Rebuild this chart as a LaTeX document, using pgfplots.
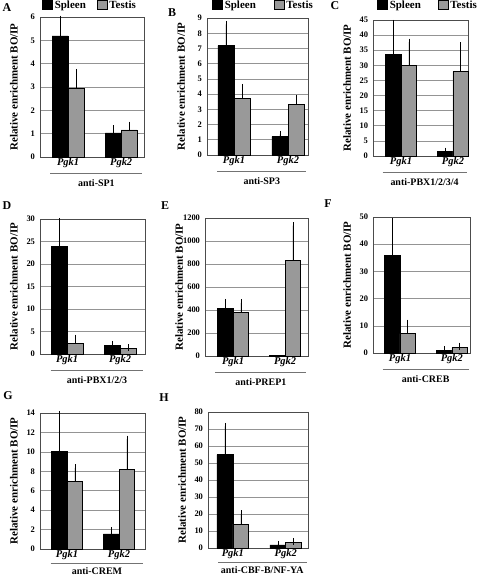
\documentclass[border=0pt]{standalone}
\usepackage{fontspec}
\setmainfont{Liberation Serif}
\usepackage{pgfplots}
\pgfplotsset{compat=1.18}
\definecolor{barg}{gray}{0.6}
\definecolor{gridg}{gray}{0.58}
\definecolor{frameg}{gray}{0.3}
\definecolor{lineg}{gray}{0.45}
\pgfplotsset{
  panel/.style={
    scale only axis, anchor=south west, clip=false,
    ymin=0, xtick={0,1}, xticklabels={\textit{Pgk1},\textit{Pgk2}},
    xticklabel style={font=\fontsize{10.5}{12}\selectfont\bfseries, inner sep=1.5bp},
    yticklabel style={font=\fontsize{8.5}{10}\selectfont\bfseries, xshift=-1.5bp},
    /pgf/number format/assume math mode=true, /pgf/number format/1000 sep={},
    major tick length=0pt, ymajorgrids, major grid style={gridg, line width=0.6bp},
    axis line style={frameg, line width=0.7bp},
    ylabel={Relative enrichment BO/IP},
    every axis y label/.style={at={(axis description cs:0,0.5)}, xshift=-26bp, rotate=90, anchor=center, font=\fontsize{11}{13}\selectfont\bfseries},
    legend columns=2,
    legend image code/.code={\draw[##1] (0bp,-4.5bp) rectangle (10bp,4.5bp);},
    legend style={draw=none, fill=none, at={(axis description cs:0,1)}, anchor=west, font=\fontsize{11}{13}\selectfont\bfseries, inner sep=0pt},
  },
  sp/.style={ybar, bar width=0.3, bar shift=0pt, fill=black, draw=black, line width=0.6bp,
    error bars/.cd, y dir=plus, y explicit, error bar style={black, line width=0.6bp}, error mark options={black, mark size=3.5bp, line width=0.6bp}},
  te/.style={ybar, bar width=0.3, bar shift=0pt, fill=barg, draw=black, line width=0.6bp,
    error bars/.cd, y dir=plus, y explicit, error bar style={black, line width=0.6bp}, error mark options={black, mark size=3.5bp, line width=0.6bp}},
}
\newcommand{\antilabel}[3][16bp]{\draw[lineg, line width=0.7bp] ([yshift=-#1]rel axis cs:0.1,0) -- ([yshift=-#1]rel axis cs:0.985,0) node[midway, yshift=-#2, black, font=\fontsize{10}{12}\selectfont\bfseries]{#3};}
\begin{document}
\begin{tikzpicture}
\path[use as bounding box] (0,0) rectangle (480bp,-576bp);
% A
\begin{axis}[panel, at={(40bp,-157bp)}, width=104bp, height=140bp, xmin=-0.53, xmax=1.43, ymax=6, ytick={0,1,...,6},
  legend style={xshift=2bp, yshift=12bp, /tikz/every even column/.append style={column sep=9bp}}]
\addplot[sp] coordinates {(-0.15,5.19) +- (0,0.72) (0.85,1.03) +- (0,0.18)};
\addplot[te] coordinates {(0.15,2.96) +- (0,0.67) (1.15,1.16) +- (0,0.21)};
\legend{Spleen,Testis}
\antilabel{10bp}{anti-SP1}
\end{axis}
% B
\begin{axis}[panel, at={(207bp,-155bp)}, width=101bp, height=137bp, xmin=-0.5, xmax=1.37, ymax=9, ytick={0,1,...,9},
  legend style={xshift=5bp, yshift=13bp, /tikz/every even column/.append style={column sep=16bp}}]
\addplot[sp] coordinates {(-0.15,7.18) +- (0,1.40) (0.85,1.20) +- (0,0.16)};
\addplot[te] coordinates {(0.15,3.72) +- (0,0.72) (1.15,3.30) +- (0,0.44)};
\legend{Spleen,Testis}
\antilabel{10bp}{anti-SP3}
\end{axis}
% C
\begin{axis}[panel, at={(373bp,-156bp)}, width=95bp, height=136bp, xmin=-0.54, xmax=1.29, ymax=45, ytick={0,5,...,45},
  legend style={xshift=4bp, yshift=15bp, /tikz/every even column/.append style={column sep=15bp}}]
\addplot[sp] coordinates {(-0.15,33.6) +- (0,10.3) (0.85,1.4) +- (0,0.2)};
\addplot[te] coordinates {(0.15,30.0) +- (0,7.7) (1.15,27.9) +- (0,8.6)};
\legend{Spleen,Testis}
\antilabel{10bp}{anti-PBX1/2/3/4}
\end{axis}
% D
\begin{axis}[panel, at={(40bp,-354bp)}, width=105bp, height=135bp, xmin=-0.51, xmax=1.47, ymax=30, ytick={0,5,...,30}]
\addplot[sp] coordinates {(-0.15,24.0) +- (0,5.5) (0.85,2.0) +- (0,0.15)};
\addplot[te] coordinates {(0.15,2.3) +- (0,1.25) (1.15,1.2) +- (0,0.2)};
\antilabel{10bp}{anti-PBX1/2/3}
\end{axis}
% E
\begin{axis}[panel, at={(205bp,-356bp)}, width=103bp, height=138bp, xmin=-0.54, xmax=1.44, ymax=1200, ytick={0,200,...,1200}]
\addplot[sp] coordinates {(-0.15,411) +- (0,55)};
\addplot[te] coordinates {(0.15,379) +- (0,84) (1.15,828) +- (0,306)};
\addplot[ybar, bar width=0.3, bar shift=0pt, fill=black, draw=black, line width=0.6bp] coordinates {(0.85,3)};
\antilabel{10bp}{anti-PREP1}
\end{axis}
% F
\begin{axis}[panel, at={(373bp,-353bp)}, width=97bp, height=136bp, xmin=-0.52, xmax=1.35, ymax=50, ytick={0,10,...,50}]
\addplot[sp] coordinates {(-0.15,36.0) +- (0,12.2) (0.85,1.0) +- (0,0.2)};
\addplot[te] coordinates {(0.15,7.1) +- (0,3.9) (1.15,2.0) +- (0,0.5)};
\antilabel{10bp}{anti-CREB}
\end{axis}
% G
\begin{axis}[panel, at={(40bp,-549bp)}, width=105bp, height=136bp, xmin=-0.52, xmax=1.5, ymax=14, ytick={0,2,...,14}]
\addplot[sp] coordinates {(-0.15,10.08) +- (0,3.78) (0.85,1.55) +- (0,0.34)};
\addplot[te] coordinates {(0.15,6.98) +- (0,1.38) (1.15,8.22) +- (0,3.1)};
\antilabel[14bp]{8bp}{anti-CREM}
\end{axis}
% H
\begin{axis}[panel, at={(208bp,-548bp)}, width=100bp, height=136bp, xmin=-0.47, xmax=1.42, ymax=80, ytick={0,10,...,80}]
\addplot[sp] coordinates {(-0.15,55.0) +- (0,16.6) (0.85,1.8) +- (0,0.3)};
\addplot[te] coordinates {(0.15,14.0) +- (0,6.1) (1.15,3.3) +- (0,0.6)};
\antilabel[14bp]{8bp}{anti-CBF-B/NF-YA}
\end{axis}
% panel letters
\begin{scope}[every node/.style={font=\fontsize{12}{14}\selectfont\bfseries}]
\node at (7bp,-7.5bp) {A};
\node at (172bp,-13bp) {B};
\node at (335bp,-6bp) {C};
\node at (7bp,-206bp) {D};
\node at (165bp,-206bp) {E};
\node at (328bp,-204bp) {F};
\node at (8bp,-396bp) {G};
\node at (164bp,-398bp) {H};
\end{scope}
\end{tikzpicture}
\end{document}
